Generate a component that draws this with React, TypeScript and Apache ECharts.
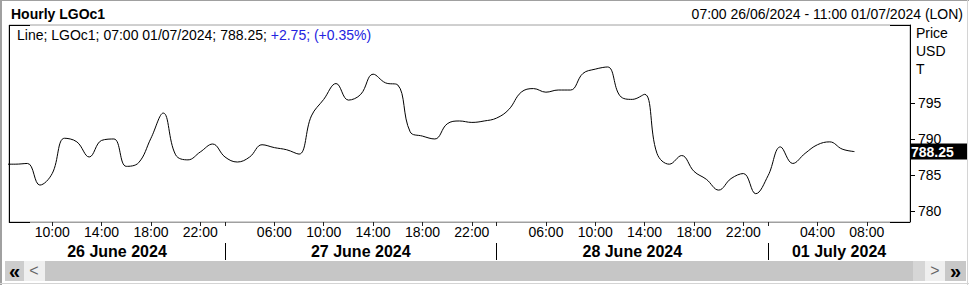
import React, { useEffect, useRef } from 'react';
import * as echarts from 'echarts';

// ---- data ----
const dayNames = ['26 June 2024', '27 June 2024', '28 June 2024', '01 July 2024'];
const dayDates = ['26/06/2024', '27/06/2024', '28/06/2024', '01/07/2024'];
const daySessionStart = [2, 2, 2, 0];
const dayFirstHours = [7, 2, 2, 0];
const dayLastHours = [23, 23, 23, 11];

// hourly closes from 07:00 26/06 to 07:00 01/07 (one per bar)
const prices = [
  786.5, 786.6, 783.6, 785.2, 790.1, 789.6, 787.5, 789.8, 790.0, 786.2,
  786.7, 790.1, 793.6, 787.8, 787.1, 788.2, 789.3, 787.5, 786.8, 787.5,
  789.2, 788.8, 788.5, 787.9, 793.2, 795.5, 797.7, 795.4, 796.2, 799.0,
  797.8, 797.5, 791.0, 790.4, 790.0, 792.1, 792.5, 792.3, 792.5, 792.9,
  794.1, 796.5, 797.0, 796.5, 796.8, 796.8, 799.1, 799.7, 800.0, 796.0,
  795.5, 796.2, 788.0, 786.5, 787.7, 785.5, 784.4, 782.9, 784.5, 785.2,
  782.4, 784.9, 788.9, 786.6, 788.0, 789.2, 789.6, 788.6, 788.25,
];
const priceBeforeRange = 786.5; // 06:00 26/06 bar, just left of the view
const previousClose = 785.5;
const yTicks = [780, 785, 790, 795];
const yMin = 778.47;
const yMax = 805.83;

// ---- derived ----
const FONT = "'Liberation Sans', Arial, sans-serif";
const pad = (n: number) => (n < 10 ? '0' + n : '' + n);

type Cat = { day: number; hour: number; first: boolean };
const cats: Cat[] = [];
dayNames.forEach((_, d) => {
  for (let h = dayFirstHours[d]; h <= dayLastHours[d]; h++) {
    cats.push({ day: d, hour: h, first: h === dayFirstHours[d] });
  }
});
const xMin = -0.5;
const xMax = cats.length - 0.5;
const separators = cats.map((c, i) => (c.first && c.day > 0 ? i : -1)).filter((i) => i >= 0);
const hourLabelIdx = cats
  .map((c, i) => (!(c.first && c.day > 0) && (c.hour - daySessionStart[c.day]) % 4 === 0 && c.hour !== daySessionStart[c.day] ? i : -1))
  .filter((i) => i >= 0);
const dayBounds = [xMin, ...separators, xMax];
const dayMids = dayNames.map((_, d) => (dayBounds[d] + dayBounds[d + 1]) / 2);

const seriesData: number[][] = [[-1, priceBeforeRange], ...prices.map((p, i) => [i, p])];
const lastIdx = prices.length - 1;
const lastPrice = prices[lastIdx];
const change = lastPrice - previousClose;
const changePct = (change / previousClose) * 100;
const lastCat = cats[lastIdx];
const legendMain = `Line; LGOc1; ${pad(lastCat.hour)}:00 ${dayDates[lastCat.day]}; ${lastPrice.toFixed(2)}; `;
const legendChange = `${change >= 0 ? '+' : ''}${change.toFixed(2)}; (${changePct >= 0 ? '+' : ''}${changePct.toFixed(2)}%)`;
const rangeText = `${pad(cats[0].hour)}:00 ${dayDates[0]} - ${pad(cats[cats.length - 1].hour)}:00 ${dayDates[dayDates.length - 1]} (LON)`;

const GRID = { left: 9, top: 25, right: 910, bottom: 222 };

function buildOption(): any {
  const txt = (x: number, y: number, text: string, extra: any = {}) => ({
    type: 'text',
    x,
    y,
    silent: true,
    z: 10,
    style: { text, font: `14px ${FONT}`, fill: '#000', verticalAlign: 'middle', ...extra },
  });
  const line = (x1: number, y1: number, x2: number, y2: number, stroke: string, lw = 1) => ({
    type: 'line',
    silent: true,
    z: 10,
    shape: { x1, y1, x2, y2 },
    style: { stroke, lineWidth: lw },
  });
  const rect = (x: number, y: number, w: number, h: number, fill: string) => ({
    type: 'rect',
    silent: true,
    shape: { x, y, width: w, height: h },
    style: { fill },
  });

  return {
    animation: false,
    backgroundColor: '#fff',
    textStyle: { fontFamily: FONT },
    grid: {
      left: GRID.left,
      top: GRID.top,
      right: 969 - GRID.right,
      bottom: 285 - GRID.bottom,
      containLabel: false,
      outerBoundsMode: 'none',
      show: true,
      borderColor: '#a0a0a0',
      borderWidth: 1,
      backgroundColor: '#fff',
    },
    xAxis: [
      {
        type: 'value',
        min: xMin,
        max: xMax,
        position: 'bottom',
        axisLine: { show: true, onZero: false, lineStyle: { color: '#a0a0a0' } },
        splitLine: { show: false },
        axisTick: {
          show: true,
          length: 4,
          customValues: [...hourLabelIdx, ...separators],
          lineStyle: { color: '#222' },
        },
        axisLabel: {
          customValues: hourLabelIdx,
          formatter: (v: number) => {
            const c = cats[Math.round(v)];
            return c ? `${pad(c.hour)}:00` : '';
          },
          fontSize: 14,
          color: '#000',
          margin: 3,
          fontFamily: FONT,
        },
      },
      {
        type: 'value',
        min: xMin,
        max: xMax,
        position: 'bottom',
        offset: 21,
        axisLine: { show: false, onZero: false },
        splitLine: { show: false },
        axisTick: {
          show: true,
          length: 17,
          customValues: separators,
          lineStyle: { color: '#000' },
        },
        axisLabel: {
          customValues: dayMids,
          formatter: (v: number) => {
            const d = dayMids.findIndex((m) => Math.abs(m - v) < 1e-6);
            return d >= 0 ? dayNames[d] : '';
          },
          fontSize: 16,
          fontWeight: 'bold',
          color: '#000',
          margin: 0,
          fontFamily: FONT,
        },
      },
    ],
    yAxis: [
      {
        type: 'value',
        position: 'right',
        min: yMin,
        max: yMax,
        axisLine: { show: true, onZero: false, lineStyle: { color: '#000' } },
        splitLine: { show: false },
        axisTick: { show: true, length: 5, customValues: yTicks, lineStyle: { color: '#000' } },
        axisLabel: {
          customValues: yTicks,
          fontSize: 14,
          color: '#000',
          margin: 8,
          fontFamily: FONT,
        },
      },
      {
        type: 'value',
        position: 'right',
        min: yMin,
        max: yMax,
        z: 5,
        axisLine: { show: false, onZero: false },
        splitLine: { show: false },
        axisTick: { show: false },
        axisLabel: {
          customValues: [lastPrice],
          formatter: (v: number) => v.toFixed(2),
          fontSize: 14,
          fontWeight: 'bold',
          color: '#fff',
          backgroundColor: '#000',
          lineHeight: 16,
          padding: [0, 14, 0, 1],
          margin: 0,
          fontFamily: FONT,
        },
      },
    ],
    series: [
      {
        type: 'line',
        xAxisIndex: 0,
        yAxisIndex: 0,
        data: seriesData,
        smooth: 0.4,
        showSymbol: false,
        clip: true,
        lineStyle: { color: '#000', width: 1 },
      },
    ],
    graphic: [
      // outer frame
      line(1, 0, 1, 285, '#a0a0a0', 2),
      line(0, 0.5, 969, 0.5, '#a0a0a0'),
      line(967.5, 0, 967.5, 285, '#d4d4d4'),
      line(0, 283.5, 969, 283.5, '#d4d4d4'),
      // left plot edge
      line(9.5, 25, 9.5, 223, '#000'),
      // header
      txt(11, 14, 'Hourly LGOc1', { font: `bold 14px ${FONT}` }),
      txt(963, 14, rangeText, { align: 'right' }),
      {
        type: 'text',
        x: 17,
        y: 35,
        silent: true,
        style: {
          text: `{a|${legendMain}}{b|${legendChange}}`,
          verticalAlign: 'middle',
          rich: {
            a: { fontSize: 14, fontFamily: FONT, fill: '#000', color: '#000' },
            b: { fontSize: 14, fontFamily: FONT, fill: '#2323e0', color: '#2323e0' },
          },
        },
      },
      // price axis caption
      txt(916, 33, 'Price'),
      txt(916, 51, 'USD'),
      txt(916, 69, 'T'),
      // black corner marks on the frame
      line(9, 25.5, 30, 25.5, '#000'),
      line(9, 222.5, 30, 222.5, '#000'),
      line(890, 25.5, 910, 25.5, '#000'),
      line(890, 222.5, 910, 222.5, '#000'),
      // scroll bar
      rect(5, 261, 19, 20, '#cdcdcd'),
      rect(24, 261, 21, 20, '#efefef'),
      rect(45, 261, 868, 20, '#c6c6c6'),
      rect(913, 261, 12, 20, '#d6d6d6'),
      rect(925, 261, 20, 20, '#efefef'),
      rect(945, 261, 21, 20, '#c8c8c8'),
      txt(14.5, 270.5, '«', { font: `bold 20px ${FONT}`, align: 'center' }),
      txt(34, 270.5, '<', { font: `16px ${FONT}`, align: 'center', fill: '#666' }),
      txt(935, 270.5, '>', { font: `16px ${FONT}`, align: 'center', fill: '#666' }),
      txt(955.5, 270.5, '»', { font: `bold 20px ${FONT}`, align: 'center' }),
    ],
  };
}

export default function App() {
  const ref = useRef<HTMLDivElement>(null);
  useEffect(() => {
    document.body.style.margin = '0';
    const chart = echarts.init(ref.current!, null, { renderer: 'svg' });
    chart.setOption(buildOption());
    return () => chart.dispose();
  }, []);
  return <div ref={ref} style={{ width: 969, height: 285 }} />;
}
